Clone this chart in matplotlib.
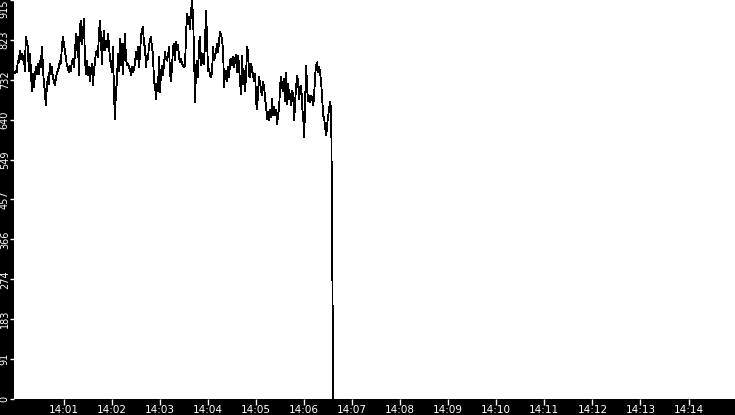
import matplotlib
matplotlib.use("Agg")
import matplotlib.pyplot as plt
import matplotlib.dates as mdates
import pandas as pd


# readings (one sample every 1.25 s)
seg_a = [747, 753, 749, 776, 772, 799, 780, 791, 776, 788,
         753, 830, 818, 807, 753, 791, 761, 707, 746, 715,
         738, 761, 746, 769, 746, 776, 761, 807, 769, 723,
         707, 673, 715, 738, 723, 769, 746, 761, 738, 730,
         719, 734, 749, 753, 761, 776, 769, 807, 830, 814,
         799, 784, 765, 761, 749, 765, 753, 772, 780, 761,
         788, 837, 799, 830, 742, 853, 868, 814, 837, 872,
         784, 746, 776, 742, 761, 730, 749, 769, 719]
seg_b = [753, 772, 795, 799, 784, 837, 868, 830, 769, 814,
         845, 799, 822, 807, 837, 814, 780, 769, 749, 807,
         707, 642, 707, 726, 791, 753, 826, 765, 814, 746,
         795, 837, 780, 765, 769, 761, 757, 742, 761, 749,
         757, 769, 795, 780, 807, 761, 788, 834, 845, 853,
         814, 807, 761, 788, 780, 811, 822, 830, 807, 791,
         726, 723, 688, 723, 707, 784, 704, 749, 765, 742,
         769, 795, 780, 776, 788, 807, 746, 730, 761, 807]
seg_c = [814, 776, 818, 799, 811, 784, 772, 780, 769, 765,
         761, 765, 837, 883, 860, 876, 849, 891, 912, 879,
         791, 681, 761, 776, 738, 818, 830, 765, 772, 791,
         769, 822, 891, 822, 753, 757, 742, 738, 749, 807,
         776, 788, 799, 814, 795, 822, 841, 837, 822, 799,
         715, 749, 753, 730, 761, 738, 776, 780, 765, 784,
         761, 780, 788, 749, 788, 761, 723, 700, 788, 723,
         753, 707, 746, 807, 795, 742, 738, 769, 753, 742]
seg_d = [730, 746, 681, 665, 707, 738, 723, 707, 696, 727,
         715, 688, 669, 642, 658, 639, 662, 646, 688, 650,
         669, 650, 662, 631, 654, 669, 723, 738, 715, 707,
         734, 684, 749, 677, 723, 688, 700, 673, 707, 696,
         639, 684, 719, 742, 723, 688, 715, 719, 669, 646,
         600, 688, 765, 707, 684, 696, 681, 696, 688, 673,
         700, 746, 765, 772, 749, 761, 746, 723, 688, 650,
         642, 620, 604, 631, 650, 669, 681, 658]
drop = [340, 0]

values = seg_a + seg_b + seg_c + seg_d + drop
times = pd.date_range("2000-01-01 13:59:59", periods=len(values), freq="1250ms")

y_max = 915
y_ticks = [y_max * i / 10 for i in range(11)]
y_labels = [str(int(v)) for v in y_ticks]
x_ticks = pd.date_range("2000-01-01 14:01", "2000-01-01 14:14", freq="1min")

fig = plt.figure(figsize=(7.35, 4.15), dpi=100, facecolor="black")
ax = fig.add_axes([14 / 735, 16 / 415, 721 / 735, 399 / 415])
ax.set_facecolor("white")

ax.plot(times, values, color="black", linewidth=0.6, antialiased=False)

ax.set_xlim(pd.Timestamp("2000-01-01 13:59:58"), pd.Timestamp("2000-01-01 14:14:58"))
ax.set_ylim(0, y_max)

ax.set_xticks(x_ticks)
ax.xaxis.set_major_formatter(mdates.DateFormatter("%H:%M"))
ax.set_yticks(y_ticks)
ax.set_yticklabels(y_labels, rotation=90, va="center")
ax.get_yticklabels()[-1].set_va("top")

ax.tick_params(colors="white", labelcolor="white", width=1)
ax.tick_params(axis="x", labelsize=7.5, length=4, pad=0.5)
ax.tick_params(axis="y", labelsize=7, length=3, pad=0)
for s in ax.spines.values():
    s.set_visible(False)

fig.savefig("out.png", dpi=100, facecolor="black")
